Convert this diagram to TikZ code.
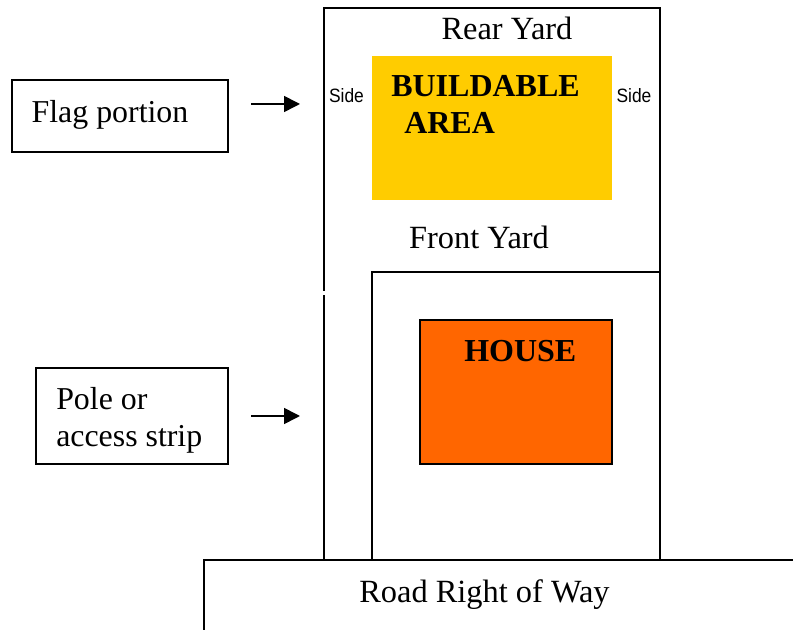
\documentclass[tikz,border=0pt]{standalone}
\usepackage{fontspec}
\setmainfont{Liberation Serif}
\newfontfamily\sidefont{Liberation Sans}
\usetikzlibrary{arrows.meta}
\definecolor{buildgold}{HTML}{FFCC00}
\definecolor{houseorange}{HTML}{FF6600}

\begin{document}
\begin{tikzpicture}[x=0.75pt, y=-0.75pt]
        % ================= styles =================
        \tikzset{
            lot/.style={draw=black, line width=1.5pt, line cap=rect},
            label/.style={draw=black, line width=1.5pt, inner sep=0pt, outer sep=0pt, anchor=north west},
            plain/.style={font=\fontsize{24.3}{27.75}\selectfont, inner sep=0pt},
            boxtext/.style={font=\fontsize{23.9}{27.75}\selectfont, inner sep=0pt},
            heavy/.style={font=\fontsize{24}{28}\selectfont\bfseries, inner sep=0pt, anchor=base west},
            sidetext/.style={font=\sidefont\fontsize{14.5}{15}\selectfont, inner sep=0pt, xscale=0.9},
            pointer/.style={draw=black, line width=1.2pt, -{Triangle[length=12pt, width=12pt]}}
        }

        % ================= page =================
        \path[use as bounding box] (0,0) rectangle (793,630);

        % ================= coloured blocks =================
        \node[fill=buildgold, minimum width=180pt, minimum height=108pt, inner sep=0pt, outer sep=0pt, anchor=north west] (buildable) at (372,56) {};
        \node[label, fill=houseorange, minimum width=144pt, minimum height=108pt] (house) at (420,320) {};

        % ================= lot lines =================
        \coordinate (flagtl) at (324,8);
        \coordinate (flagtr) at (660,8);
        \coordinate (flagbr) at (660,272);
        \coordinate (flaggap) at (324,290);
        \coordinate (polegap) at (324,296);
        \coordinate (polebl) at (324,560);
        \coordinate (inntl) at (372,272);
        \coordinate (innbl) at (372,560);
        \coordinate (innbr) at (660,560);
        \coordinate (roadtl) at (204,560);
        \coordinate (roadtr) at (793,560);
        \coordinate (roadbl) at (204,630);

        \draw[lot] (flaggap) -- (flagtl) -- (flagtr) -- (flagbr);
        \draw[lot] (polegap) -- (polebl);
        \draw[lot] (innbl) -- (inntl) -- (flagbr) -- (innbr);
        \draw[lot] (roadbl) -- (roadtl) -- (roadtr);

        % ================= texts =================
        \node[plain] (rear) at (507,28.5) {Rear Yard};
        \node[plain] (front) at (479,237.5) {Front Yard};
        \node[plain] (road) at (484.5,595) {Road Right of Way};
        \node[sidetext] (sideleft) at (346.5,96) {Side};
        \node[sidetext] (sideright) at (634,96) {Side};
        \node[heavy] (build) at (391,96.5) {BUILDABLE};
        \node[heavy] (area) at (404,133.5) {AREA};
        \node[heavy] (housetext) at (464,361.5) {HOUSE};

        % ================= side boxes =================
        \node[label, minimum width=162pt, minimum height=54pt] (flag) at (12,80) {};
        \node[boxtext] (flagtext) at (110,115) {Flag portion};
        \node[label, minimum width=144pt, minimum height=72pt] (pole) at (36,368) {};
        \node[boxtext, align=left, anchor=north west] (poletext) at (56,387) {Pole or\\access strip};

        \coordinate (flagtip) at (300,104);
        \coordinate (poletip) at (300,416);
        \coordinate (flagtail) at (251,104);
        \coordinate (poletail) at (251,416);
        \draw[pointer] (flagtail) -- (flagtip);
        \draw[pointer] (poletail) -- (poletip);
\end{tikzpicture}
\end{document}
